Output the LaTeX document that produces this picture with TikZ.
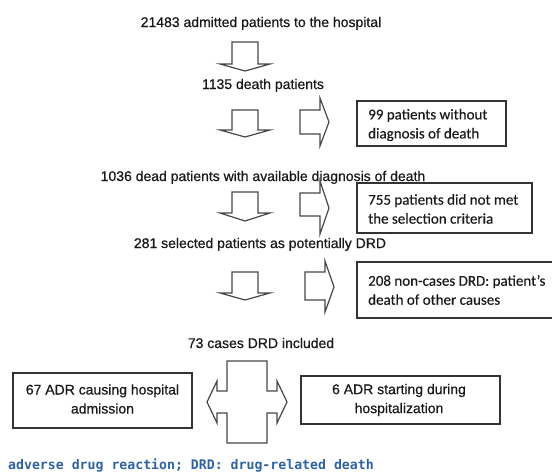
\documentclass[tikz,border=0pt]{standalone}
\usepackage{fontspec}
\newfontfamily\arialf[FakeBold=0.6]{Liberation Sans}
\newfontfamily\carl[FakeBold=0.3]{Carlito}
\newfontfamily\monof{DejaVu Sans Mono}
\definecolor{capblue}{RGB}{48,98,160}
\definecolor{ink}{RGB}{25,25,25}
\begin{document}
\begin{tikzpicture}[x=1pt,y=-1pt,
  ttl/.style={font=\fontsize{14}{19}\selectfont\arialf, text=ink, inner sep=0pt, anchor=base},
  boxtxt/.style={font=\fontsize{15}{19}\selectfont\carl, text=ink, inner sep=0pt, align=left, anchor=west},
  midtxt/.style={font=\fontsize{14}{19}\selectfont\arialf, text=ink, inner sep=0pt, align=center},
  frame/.style={draw=black!80, line width=1.3pt},
  blk/.style={draw=black!72, line width=1.2pt, line join=miter, fill=white}]
\useasboundingbox (0,0) rectangle (552,474);

% main flow texts
\node[ttl] (t1) at (261,27) {21483 admitted patients to the hospital};
\node[ttl] (t2) at (263,89) {1135 death patients};
\node[ttl] (t3) at (263,181) {1036 dead patients with available diagnosis of death};
\node[ttl] (t4) at (260,248) {281 selected patients as potentially DRD};
\node[ttl] (t5) at (261,348) {73 cases DRD included};

% down block arrows
\draw[blk] (232,42) -- (258,42) -- (258,64) -- (270,64) -- (245,71) -- (220,64) -- (232,64) -- cycle;
\draw[blk] (232,110) -- (258,110) -- (258,130) -- (270,130) -- (245,137) -- (220,130) -- (232,130) -- cycle;
\draw[blk] (232,192) -- (258,192) -- (258,213) -- (270,213) -- (245,221) -- (220,213) -- (232,213) -- cycle;
\draw[blk] (232,272) -- (258,272) -- (258,293) -- (270,293) -- (245,300) -- (220,293) -- (232,293) -- cycle;

% right block arrows
\draw[blk] (300,110) -- (320,110) -- (320,98) -- (329,122) -- (320,146) -- (320,134) -- (300,134) -- cycle;
\draw[blk] (300,193) -- (320,193) -- (320,181) -- (329,208) -- (320,234) -- (320,216) -- (300,216) -- cycle;
\draw[blk] (305,272) -- (325,272) -- (325,261) -- (334,287) -- (325,312) -- (325,300) -- (305,300) -- cycle;

% exclusion boxes
\draw[frame] (357,101) rectangle (506,146);
\node[boxtxt] (b1) at (368,125) {99 patients without\\diagnosis of death};
\draw[frame] (357,183) rectangle (532,233);
\node[boxtxt] (b2) at (368,209) {755 patients did not met\\the selection criteria};
\draw[frame] (357,262) rectangle (560,318);
\node[boxtxt] (b3) at (368,290) {208 non-cases DRD: patient’s\\death of other causes};

% cross double arrow
\draw[blk] (227,361) -- (267,361) -- (267,391) -- (277,391) -- (277,381) -- (287,402) -- (277,423) -- (277,413) -- (267,413) -- (267,443) -- (227,443) -- (227,413) -- (217,413) -- (217,423) -- (207,402) -- (217,381) -- (217,391) -- (227,391) -- cycle;

% bottom boxes
\draw[frame] (13,373) rectangle (192,428);
\node[midtxt] (l1) at (102.5,399) {67 ADR causing hospital\\admission};
\draw[frame] (301,376) rectangle (500,424);
\node[midtxt] (r1) at (399,400) {6 ADR starting during\\hospitalization};

% caption
\node[font=\fontsize{13.2}{15}\selectfont\monof\bfseries, text=capblue, inner sep=0pt, anchor=base west] (cap) at (8,469) {adverse drug reaction; DRD: drug-related death};
\end{tikzpicture}
\end{document}
